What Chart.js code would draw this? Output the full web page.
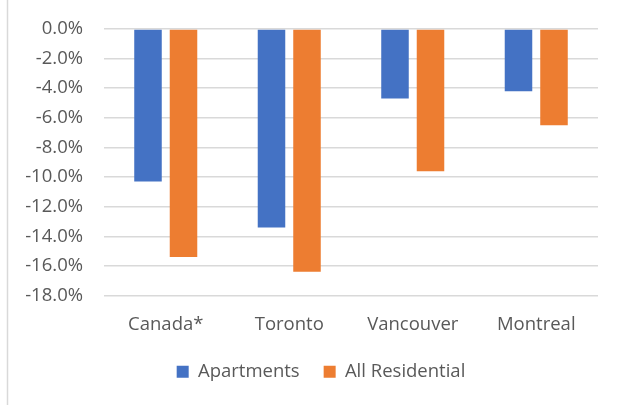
<!DOCTYPE html>
<html>
<head>
<meta charset="utf-8">
<script src="https://cdn.jsdelivr.net/npm/chart.js@4"></script>
<style>
html, body { margin: 0; padding: 0; background: #fff; }
#wrap { width: 619px; height: 405px; position: relative; }
</style>
</head>
<body>
<div id="wrap"><canvas id="graph1"></canvas></div>
<script>
var cities = ["Canada*", "Toronto", "Vancouver", "Montreal"];
var apartments = [-10.3, -13.4, -4.7, -4.2];
var allResidential = [-15.4, -16.4, -9.6, -6.5];
var yTicks = [0, -2, -4, -6, -8, -10, -12, -14, -16, -18];

var textColor = "#595959";
var gridColor = "#d9d9d9";
var fontFamily = "'Open Sans'";
var fontSize = 18.5;

// grey frame line at the left edge, like the Excel chart border
var frameLine = {
    id: "frameLine",
    beforeDraw: function (chart) {
        var c = chart.ctx;
        c.save();
        c.strokeStyle = gridColor;
        c.lineWidth = 1.5;
        c.beginPath();
        c.moveTo(7.5, 0);
        c.lineTo(7.5, chart.height);
        c.stroke();
        c.restore();
    },
    // legend sits a bit right of the canvas centre in the original
    afterLayout: function (chart) {
        if (chart.legend) {
            chart.legend.left += 22;
            chart.legend.right += 22;
        }
    }
};

var data = {
    labels: cities,
    datasets: [{
        label: "Apartments",
        backgroundColor: "#4472c4",
        data: apartments
    }, {
        label: "All Residential",
        backgroundColor: "#ed7d31",
        data: allResidential
    }]
};

var options = {
    responsive: true,
    maintainAspectRatio: false,
    animation: false,
    layout: { padding: { top: 29, right: 21, left: 0, bottom: 14 } },
    datasets: { bar: { categoryPercentage: 0.575, barPercentage: 0.775 } },
    plugins: {
        tooltip: { enabled: false },
        legend: {
            position: "bottom",
            labels: {
                color: textColor,
                font: { family: fontFamily, size: fontSize },
                boxWidth: 12,
                boxHeight: 12,
                padding: 24
            }
        }
    },
    scales: {
        x: {
            grid: { display: false },
            border: { display: false },
            ticks: {
                color: textColor,
                font: { family: fontFamily, size: fontSize },
                padding: 10
            },
            afterFit: function (s) { s.height = 43; }
        },
        y: {
            min: -18,
            max: 0,
            grid: { color: gridColor, lineWidth: 1.5, drawTicks: false },
            border: { display: false },
            afterBuildTicks: function (s) {
                s.ticks = yTicks.map(function (v) { return { value: v }; });
            },
            ticks: {
                color: textColor,
                font: { family: fontFamily, size: fontSize },
                padding: 21,
                callback: function (v) { return v.toFixed(1) + "%"; }
            },
            afterFit: function (s) {
                s.width = 104;
                s.paddingTop = 0;
                s.paddingBottom = 0;
            }
        }
    }
};

new Chart(document.getElementById("graph1"), {
    type: "bar",
    data: data,
    options: options,
    plugins: [frameLine]
});
</script>
</body>
</html>
